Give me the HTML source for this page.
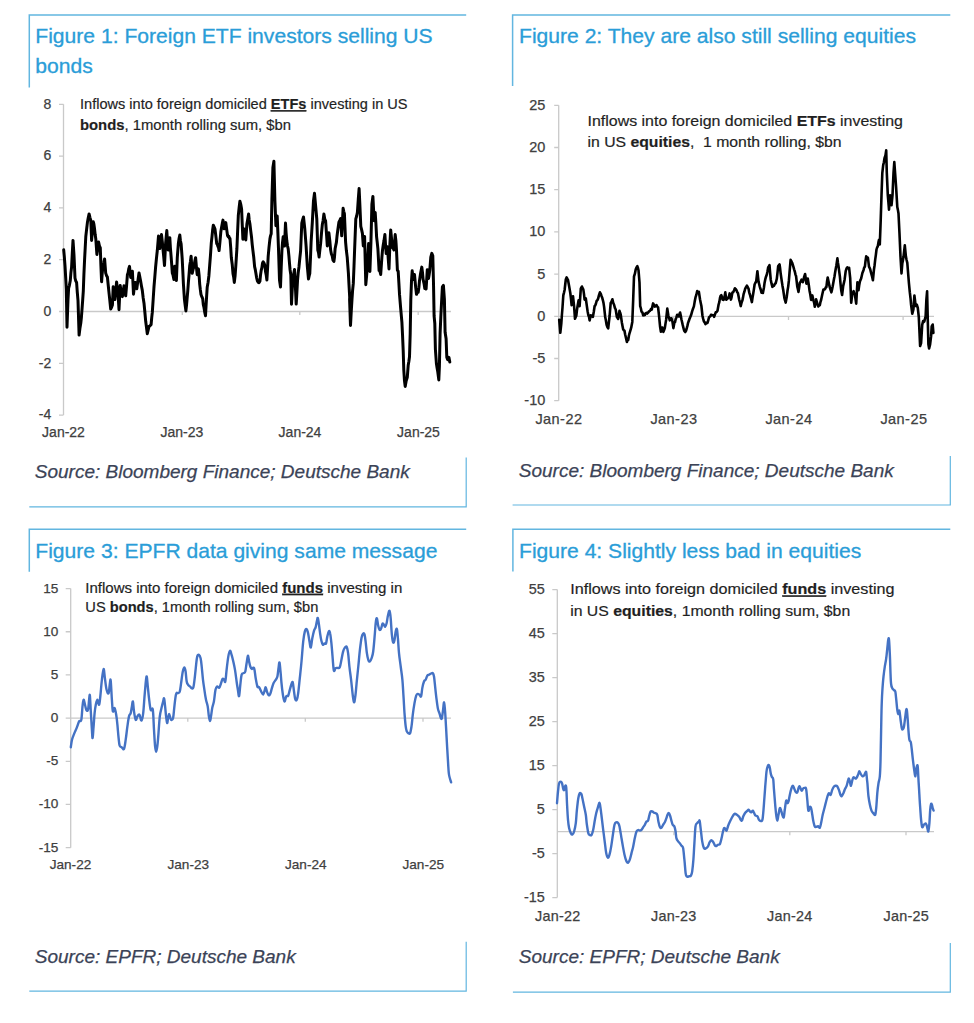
<!DOCTYPE html>
<html lang="en"><head><meta charset="utf-8"><title>Figures 1-4: Foreign flows into US assets</title>
<style>html,body{margin:0;padding:0;background:#fff}svg{display:block}text{font-family:"Liberation Sans",Arial,sans-serif}.t{font-size:20px;fill:#2a9dd8;stroke:#2a9dd8;stroke-width:.3}.s{font-size:19px;font-style:italic;fill:#3b4357;stroke:#3b4357;stroke-width:.25}.b{stroke:#62b6e0;stroke-width:1.5;fill:none}.ax{stroke:#c9c9c9;stroke-width:1.3;fill:none}.l{fill:#404040;stroke:#404040;stroke-width:.25}.a{fill:#1f1f1f;stroke:#1f1f1f;stroke-width:.2}.bk{stroke:#000;stroke-width:3;fill:none;stroke-linejoin:round;stroke-linecap:round}.bl{stroke:#4472c4;stroke-width:2.4;fill:none;stroke-linejoin:round;stroke-linecap:round}</style></head><body>
<svg width="974" height="1023" viewBox="0 0 974 1023">
<rect width="974" height="1023" fill="#fff"/>
<path class="b" d="M29.3 87.5 V15 H466.2"/>
<path class="b" style="stroke-width:1.2" d="M29.3 506.8 H466.2 V457.5"/>
<text class="t" transform="translate(35.3 43.1) scale(1.055 1)">Figure 1: Foreign ETF investors selling US</text>
<text class="t" transform="translate(35.3 73.1) scale(1.055 1)">bonds</text>
<text class="s" x="34.8" y="477.5">Source: Bloomberg Finance; Deutsche Bank</text>
<path class="ax" d="M63.5 104.3 V415.1 M59 104.3 H63.5 M59 156.1 H63.5 M59 207.9 H63.5 M59 259.7 H63.5 M59 311.5 H63.5 M59 363.3 H63.5 M59 415.1 H63.5 M63.5 311.5 H451 M182.3 311.5 V315.1 M299.8 311.5 V315.1 M418.2 311.5 V315.1"/>
<text class="l" font-size="14" text-anchor="end" x="51.2" y="108.6">8</text>
<text class="l" font-size="14" text-anchor="end" x="51.2" y="160.4">6</text>
<text class="l" font-size="14" text-anchor="end" x="51.2" y="212.2">4</text>
<text class="l" font-size="14" text-anchor="end" x="51.2" y="264">2</text>
<text class="l" font-size="14" text-anchor="end" x="51.2" y="315.8">0</text>
<text class="l" font-size="14" text-anchor="end" x="51.2" y="367.6">-2</text>
<text class="l" font-size="14" text-anchor="end" x="51.2" y="419.4">-4</text>
<text class="l" font-size="14" text-anchor="middle" letter-spacing="0" x="63.5" y="436.7">Jan-22</text>
<text class="l" font-size="14" text-anchor="middle" letter-spacing="0" x="181.8" y="436.7">Jan-23</text>
<text class="l" font-size="14" text-anchor="middle" letter-spacing="0" x="300" y="436.7">Jan-24</text>
<text class="l" font-size="14" text-anchor="middle" letter-spacing="0" x="418.5" y="436.7">Jan-25</text>
<text class="a" font-size="15" x="80" y="109.1" textLength="327.5" lengthAdjust="spacingAndGlyphs">Inflows into foreign domiciled <tspan font-weight="bold" text-decoration="underline" style="text-decoration-thickness:1px">ETFs</tspan> investing in US</text>
<text class="a" font-size="15" x="80" y="129.5" textLength="211" lengthAdjust="spacingAndGlyphs"><tspan font-weight="bold">bonds</tspan>, 1month rolling sum, $bn</text>
<path class="bk" d="M63.7 249.8 L64.3 256.5 L65 265.6 L65.7 277.8 L66.3 289.2 L67 327.3 L68 299.6 L68.6 288.3 L69.4 285.3 L70.3 280.5 L70.9 272.9 L71.6 267.1 L72.3 253 L73 240.4 L74 255.3 L75 278 L75.8 281.1 L76.6 282.5 L77.3 292.4 L78 300.6 L79.1 335.1 L79.9 328.5 L80.8 323.1 L81.4 317.3 L82 309.4 L82.7 299.9 L83.3 291.2 L83.9 274.6 L84.6 259.2 L85.2 248 L85.8 236.5 L86.6 229.3 L87.4 222.6 L88.2 218 L89.1 213.9 L89.9 217.3 L90.8 220.4 L91.6 240.5 L92.4 230.8 L93.3 221.8 L93.9 224.2 L94.6 229.3 L95.2 234.8 L95.8 239 L96.9 254.4 L97.8 248.6 L98.6 242 L99.4 245.8 L100.3 247.9 L100.9 265.5 L101.6 281.8 L102.2 273.5 L102.9 266.6 L103.8 263.1 L104.6 258.9 L105.7 273.1 L106.6 275.8 L107.4 277.1 L108.2 285 L109.1 293.7 L109.9 301.2 L110.7 309 L111.6 307.3 L112.4 305.1 L113.2 286.8 L114.1 292.8 L114.9 299.6 L115.8 290.6 L116.6 282 L117.4 288.9 L118.2 296.2 L119 309.7 L119.6 297 L120.2 285.4 L120.9 290.2 L121.7 294.1 L122.4 296.6 L123.2 291.2 L124 285.7 L124.8 290.6 L125.7 295.8 L126.6 285.3 L127.4 274.8 L128.1 272.7 L128.8 268.6 L129.5 266.4 L130.7 277.4 L131.6 274.1 L132.4 271.3 L133.5 294.2 L134.2 288.2 L134.8 282.4 L135.5 282.5 L136.1 286.4 L136.8 288.7 L137.5 283.6 L138.3 278 L139 272.9 L139.8 276.8 L140.7 281.5 L141.5 286.2 L142.3 290.4 L143.2 298 L144 303.2 L144.8 311.5 L145.7 321.3 L146.5 327.6 L147.3 333.7 L148.2 329.8 L149 326.4 L149.7 326 L150.4 325.4 L151.1 324.5 L151.7 317.8 L152.3 312.4 L153.2 299 L154 286.6 L154.8 277.2 L155.6 267.1 L156.4 258.8 L157.3 250.5 L158.5 236 L159.2 243.1 L159.8 248.5 L160.7 241 L161.5 234.6 L162.3 241.7 L163.1 250.4 L163.8 257.5 L164.5 265.5 L165.6 243.4 L166.2 237 L166.8 230.6 L167.4 239.9 L168.1 249.9 L168.9 243.3 L169.8 237.7 L170.4 247.8 L171.1 256.3 L171.7 264.4 L172.3 273 L173.1 275.4 L173.9 279.5 L174.8 266.2 L175.6 273.2 L176.4 280.5 L177.3 257.3 L178.4 243.1 L179.1 238.3 L179.8 235 L180.4 240.5 L181.1 243.7 L182.2 258.7 L182.8 270.7 L183.4 283.6 L184.4 299 L185.2 305.6 L185.9 310.9 L186.6 304.3 L187.2 297.4 L187.8 290.7 L188.4 282.1 L189.1 273.9 L189.7 265.8 L190.4 261.7 L191.1 256.2 L192.2 273.3 L193.1 269.4 L193.9 266.7 L194.8 261.3 L195.6 257.7 L196.4 267 L197.2 274.7 L197.8 270.6 L198.4 268.9 L199.1 275.2 L199.7 284.1 L200.3 289.4 L201 294.5 L201.8 296.7 L202.7 298.6 L203.3 304.7 L203.9 307 L204.7 312.1 L205.5 315.7 L206.4 299.9 L207.2 287.3 L208.1 282.2 L208.9 275.7 L209.7 265.2 L210.5 254.8 L211.3 242.8 L212 236.7 L212.6 230.3 L213.3 225.2 L214.2 227.2 L215 229.1 L215.8 235.6 L216.7 243.5 L217.3 244.3 L217.9 246.4 L218.5 247.7 L219.1 250.6 L219.9 242.4 L220.8 232.1 L221.5 227.8 L222.3 223.4 L223 220.1 L224.1 228.8 L224.9 225.3 L225.8 222.6 L226.7 229.4 L227.5 235.5 L228.1 236.6 L228.8 236.2 L229.4 238.2 L230 238.6 L230.7 247.3 L231.3 257.5 L232.2 264.2 L233 273.6 L233.7 277.2 L234.3 282.4 L235.1 275.7 L235.8 265.8 L236.9 248.7 L237.6 231.7 L238.3 215.7 L239.1 208 L239.9 201.2 L240.8 204.4 L241.6 209 L242.2 223.4 L242.9 239.2 L244.1 229.1 L244.9 233.2 L245.8 239.9 L246.9 223.9 L247.8 218.8 L248.6 214 L249.2 219.9 L249.9 223.8 L250.8 231.4 L251.6 237.8 L252.2 244.3 L252.9 250.4 L253.8 257.8 L254.6 266.6 L255.3 269.7 L255.9 273.3 L256.6 277.6 L257.4 281 L258.2 282.3 L259 282.7 L259.9 281.3 L260.5 275.1 L261.2 270.4 L261.9 267.7 L262.5 263.1 L263.2 261.8 L264 263 L264.9 265.6 L265.6 272 L266.2 274.9 L266.9 280 L267.5 269.6 L268.2 256.2 L269 247.3 L269.9 239.1 L270.5 235.9 L271.2 233.7 L271.9 199 L272.9 167.5 L273.9 161.3 L274.9 200.9 L275.9 225.7 L276.5 220.2 L277.2 216 L277.9 233.1 L278.5 248.9 L279.5 280 L280.5 287 L281.2 267.8 L281.9 250.9 L282.5 242.7 L283.2 236.7 L283.9 241.4 L284.5 246.1 L285.5 223 L286.1 232.8 L286.8 240.8 L287.5 245.8 L288.2 248.9 L288.9 255.8 L289.5 263.4 L290.1 270 L290.8 274.8 L291.5 304.3 L292.1 292.2 L292.8 279.2 L293.6 274.8 L294.5 269.4 L295.4 286.8 L296.2 304.1 L296.9 291.9 L297.5 280.8 L298.2 272.9 L299 266.7 L299.8 258.4 L300.6 250.8 L301.8 223 L302.6 219.9 L303.5 217 L304.1 222.4 L304.8 229 L305.5 238.2 L306.1 246.1 L307.3 266 L308.5 279 L309.1 276.2 L309.8 273.3 L310.5 257.5 L311.1 242 L312.3 222.6 L313.5 200.7 L314.5 193.3 L315.6 205.7 L316.8 219 L317.8 250.1 L318.5 252.6 L319.1 257 L319.9 249.7 L320.6 243.9 L321.5 233.2 L322.3 224.8 L323.1 220.5 L323.9 214 L324.8 219.2 L325.6 220.8 L326.5 233.8 L327.3 245.9 L328.1 239.7 L328.9 232.8 L329.8 240.6 L330.6 249.8 L331.4 254 L332.2 255.9 L333 260.2 L333.9 261.5 L334.5 257 L335.1 248.8 L335.8 245.2 L336.4 242.4 L337 236.3 L337.7 230.7 L338.9 222.2 L339.8 220.4 L340.6 218.6 L341.7 235.8 L342.4 222.6 L343.1 208.2 L343.8 211.6 L344.4 213.6 L345 227.6 L345.6 242.1 L346.4 250.8 L347.2 257.1 L348.4 273.2 L349 284.8 L349.7 297.2 L349.6 299.6 L350.5 325.4 L351.2 312.3 L352 299.2 L352.6 290.4 L353.3 283.4 L354 266.3 L354.6 250 L355.8 218.9 L356.6 216.2 L357.4 212.4 L358.3 199.1 L359.1 188.6 L359.9 205.6 L360.8 226.3 L361.6 229.6 L362.4 233.4 L363.3 245.9 L364 240.4 L364.6 236.6 L365.8 284.7 L366.6 275.9 L367.4 266.3 L368 255.2 L368.6 243.6 L369.2 256.7 L369.9 271.4 L370.9 243.1 L371.9 204.3 L372.9 196.4 L373.5 208.4 L374.1 220.8 L375.2 212.4 L375.9 223.5 L376.6 236.8 L377.2 242.2 L377.9 248.9 L378.5 259.8 L379.1 270.6 L379.9 271.1 L380.7 274.5 L381.9 257.2 L382.5 250.2 L383.2 245.2 L384 240.6 L384.9 234.5 L385.5 244.4 L386.2 253.6 L387.4 246.7 L388.2 258.1 L389 269 L389.9 244.1 L390.7 230 L391.5 238.2 L392.4 247.6 L393.2 248.3 L394 250 L395.2 234.6 L395.9 240.9 L396.5 250.2 L397.4 270.3 L398.2 271.3 L398.9 283.3 L399.5 294.2 L400.7 308.7 L401.9 322.1 L402.5 334.2 L403.2 350.5 L403.8 370 L404.5 380.9 L405.2 386.4 L406.2 380.7 L407.3 377.2 L408.2 365.3 L408.9 361.3 L409.5 356.8 L410.2 333.5 L410.8 299.8 L411.5 280.8 L412.2 270.8 L413.2 279.4 L413.9 277.9 L414.5 274.6 L415.7 287.3 L416.5 294.3 L417.4 292.2 L418.2 292.3 L418.9 287.4 L419.5 280.6 L420.6 273.3 L421.8 267.1 L422.5 272.7 L423.1 279.3 L424 283.3 L424.8 288.5 L425.5 287.8 L426.1 289 L427.3 269.7 L428.5 278.6 L429.1 275 L429.8 270 L430.8 257.1 L431.8 253.4 L432.8 255.9 L433.5 283.3 L434.1 316 L434.8 323.3 L435.4 349.3 L436.4 363.5 L437.1 367.9 L437.8 372.1 L438.8 379.9 L439.4 366.5 L440.1 333.1 L440.8 317.3 L441.4 305.4 L442.4 286.8 L443.4 285.4 L444.4 299.4 L445.1 332.2 L446.1 338.8 L446.8 357.3 L447.5 359.4 L448.1 359.8 L448.9 357.4 L449.8 362"/>
<path class="b" d="M512.6 86 V15 H950.3"/>
<path class="b" style="stroke-width:1.2" d="M512.6 505 H950.3 V456"/>
<text class="t" transform="translate(519 43.1) scale(1.055 1)">Figure 2: They are also still selling equities</text>
<text class="s" x="518.8" y="476.8">Source: Bloomberg Finance; Deutsche Bank</text>
<path class="ax" d="M558.7 105.3 V400.7 M554.2 105.3 H558.7 M554.2 147.5 H558.7 M554.2 189.7 H558.7 M554.2 231.9 H558.7 M554.2 274.1 H558.7 M554.2 316.3 H558.7 M554.2 358.5 H558.7 M554.2 400.7 H558.7 M558.7 316.3 H934 M673.6 316.3 V319.9 M788.5 316.3 V319.9 M903.1 316.3 V319.9"/>
<text class="l" font-size="14.5" text-anchor="end" x="545.3" y="109.7">25</text>
<text class="l" font-size="14.5" text-anchor="end" x="545.3" y="151.9">20</text>
<text class="l" font-size="14.5" text-anchor="end" x="545.3" y="194.1">15</text>
<text class="l" font-size="14.5" text-anchor="end" x="545.3" y="236.3">10</text>
<text class="l" font-size="14.5" text-anchor="end" x="545.3" y="278.5">5</text>
<text class="l" font-size="14.5" text-anchor="end" x="545.3" y="320.7">0</text>
<text class="l" font-size="14.5" text-anchor="end" x="545.3" y="362.9">-5</text>
<text class="l" font-size="14.5" text-anchor="end" x="545.3" y="405.1">-10</text>
<text class="l" font-size="14.5" text-anchor="middle" letter-spacing="0.45" x="558.925" y="424.4">Jan-22</text>
<text class="l" font-size="14.5" text-anchor="middle" letter-spacing="0.45" x="673.925" y="424.4">Jan-23</text>
<text class="l" font-size="14.5" text-anchor="middle" letter-spacing="0.45" x="788.925" y="424.4">Jan-24</text>
<text class="l" font-size="14.5" text-anchor="middle" letter-spacing="0.45" x="903.925" y="424.4">Jan-25</text>
<text class="a" font-size="15" x="587.5" y="125.8" textLength="315.5" lengthAdjust="spacingAndGlyphs">Inflows into foreign domiciled <tspan font-weight="bold">ETFs</tspan> investing</text>
<text class="a" font-size="15" x="587.5" y="146.8" textLength="254" lengthAdjust="spacingAndGlyphs">in US <tspan font-weight="bold">equities</tspan>,&#160; 1 month rolling, $bn</text>
<path class="bk" style="stroke-width:2.6" d="M559.2 319.8 L560.3 332.8 L561.3 323.7 L561.9 315 L562.5 307.5 L563.3 295.3 L564 292.6 L564.6 290 L565.8 279.5 L566.6 277.4 L567.3 278.7 L568 279.9 L569.1 286 L570.3 293 L571 298.8 L571.6 305.1 L572.3 300.9 L573 296.2 L574.1 306.5 L575 318.8 L575.6 317.3 L576.3 315.8 L576.9 310.7 L577.5 306.4 L578.6 300.3 L579.6 306.2 L580.8 288.7 L581.9 286.5 L582.6 288.2 L583.3 289.4 L584 294.1 L584.6 299.6 L585.8 298.5 L586.9 306.4 L587.6 311.3 L588.3 315 L589 316.9 L589.6 320.4 L590.8 315.2 L591.5 315.7 L592.2 316.4 L592.9 316.8 L593.8 311.8 L594.6 306.2 L595.3 305.4 L595.9 303.8 L596.6 301 L597.4 300.2 L598.2 298.4 L599 295.1 L599.9 292.3 L600.8 293.9 L601.6 296.2 L602.2 297.7 L602.9 300.3 L603.5 302.9 L604.1 306.9 L605.2 317 L605.9 320.5 L606.6 324.8 L607.4 327 L608.2 328.4 L608.9 322.2 L609.6 316 L610.7 302.9 L611.5 301.7 L612.4 299.3 L613.2 302.9 L614 304.5 L614.9 307.9 L615.7 309.5 L616.9 317 L617.5 317.9 L618.2 318.9 L618.9 314.8 L619.5 310.8 L620.1 312.8 L620.7 314.5 L621.9 322.7 L622.5 326 L623.2 329.5 L623.9 330.3 L624.5 330.8 L625.1 334.3 L625.7 336.7 L626.9 342 L627.5 340.1 L628.2 340 L628.9 335.8 L629.5 333.3 L630.4 330.3 L631.2 327.7 L632.3 321.9 L633.2 299.2 L634 276.5 L634.9 273.7 L635.7 269.5 L636.5 267.4 L637.3 266.2 L637.9 267.7 L638.5 270.2 L639.5 282.5 L640.2 306.2 L640.9 308.4 L641.5 311.6 L642.4 312.5 L643.2 315.4 L644 314.1 L644.8 315.1 L645.6 313.3 L646.5 312.8 L647.3 313.5 L648.1 312.6 L649 311.4 L649.8 310.9 L650.5 309.9 L651.1 308.8 L651.8 309.6 L652.5 306 L653.1 303.4 L654 305 L654.8 306.6 L655.6 306.3 L656.5 305.1 L657.3 306.6 L658.1 307.4 L659.1 316.3 L660.1 326.8 L660.9 331.7 L661.6 329.9 L662.3 327.6 L663.4 331.9 L664.1 330 L664.8 328.1 L665.5 323.6 L666.1 320 L667.3 308.6 L668.4 315.8 L669.1 318 L669.8 320.3 L670.6 318.4 L671.4 318.2 L672.4 321.3 L673.4 328.1 L674.4 322.6 L675 322.1 L675.6 319.5 L676.4 317.4 L677.2 314.7 L678 314.9 L678.9 316.5 L679.5 314.2 L680.1 312.5 L680.8 315.8 L681.4 319.3 L682 321.7 L682.7 324.9 L683.9 329.7 L684.5 331.2 L685.2 332 L686 330.8 L686.7 328.5 L687.4 325.9 L688.1 322.8 L688.8 321.1 L689.4 319.1 L690.2 317.3 L691.1 315.1 L692.2 311.1 L693 308.8 L693.9 306.4 L694.7 301.6 L695.5 297.4 L696.4 294.7 L697.2 291 L698 292.2 L698.9 291.9 L700 299.2 L700.7 302.7 L701.4 306 L702.5 316 L703.2 318.9 L703.9 321.4 L704.7 322.4 L705.5 324.1 L706.2 322.9 L706.8 323.3 L707.5 322.8 L708.3 320.1 L709.1 317.2 L709.7 316.7 L710.4 316.2 L711 314.8 L711.6 314.7 L712.2 315.2 L712.9 315.2 L713.5 315.4 L714.1 316.8 L715 314.2 L715.8 312.3 L716.6 312 L717.5 310.8 L718.6 304.5 L719.3 302.1 L720 297.9 L720.6 295.8 L721.3 295.1 L721.9 296.7 L722.5 299.5 L723.3 299.9 L724.1 299.2 L725.3 292.4 L726.3 299.7 L727 299.1 L727.6 298.6 L728.3 297.7 L729 296.2 L729.6 293.4 L730.2 296.6 L730.9 299.6 L731.6 297.1 L732.4 292.5 L733.2 292.2 L734.1 290.2 L734.9 288.3 L735.8 289.2 L736.6 290.5 L737.2 292.2 L737.9 293 L738.5 295.9 L739.1 299.3 L739.9 302.1 L740.7 306.1 L741.5 302.9 L742.4 300.4 L743 297.6 L743.6 294.1 L744.4 291.7 L745.2 288.6 L746 287.3 L746.9 285.7 L747.8 287.2 L748.6 288.9 L749.2 292.3 L749.9 294.5 L750.6 297.1 L751.2 299.2 L751.9 302.1 L752.5 297.7 L753.2 293.7 L753.9 289.4 L754.6 284.5 L755.4 282.8 L756.2 281.5 L757.4 271.2 L758.5 281.4 L759.2 284.3 L759.9 287.1 L760.7 289.5 L761.5 292.7 L762.2 292.1 L762.9 292.9 L764 287.2 L764.6 282.7 L765.2 279.7 L766 276.7 L766.9 274.2 L767.5 271.2 L768.2 267.2 L768.9 266.3 L769.5 265.2 L770.1 272.5 L770.7 279.4 L771.5 283.4 L772.4 286.8 L773.2 286 L774 285.7 L774.9 283.9 L775.7 283.3 L776.8 278.8 L777.5 272.7 L778.2 265.9 L778.9 265.3 L779.5 264.3 L780.1 268.3 L780.7 273.8 L781.8 281.4 L782.5 285.9 L783.2 289.7 L783.9 294.6 L784.5 298.5 L785.1 300.7 L785.7 302.6 L786.8 296.4 L787.5 290.8 L788.2 286.6 L788.9 280.4 L789.5 272.8 L790.6 259.9 L791.5 261.5 L792.3 263.1 L792.9 265.1 L793.5 267.1 L794.1 269.3 L794.8 271.5 L795.5 274.6 L796.1 276.3 L797.3 286.8 L797.9 289.2 L798.5 291.9 L799.1 287.8 L799.8 282.8 L800.6 281.7 L801.5 279.7 L802.1 280.9 L802.8 282.2 L803.4 280 L804 277.5 L805.1 274 L805.8 278.9 L806.4 283.7 L807.1 280.9 L807.8 278.6 L808.9 285.8 L809.5 290.4 L810.1 293.4 L811.1 299.9 L812.3 295.4 L813.4 300.3 L814.1 302.5 L814.8 306.8 L815.5 303.5 L816.1 299.4 L817.3 303.4 L818.4 306.5 L819.1 305.2 L819.8 305.2 L820.5 301.8 L821.1 300 L822.2 294.7 L823.4 289.5 L824.2 289.5 L825.1 289 L825.8 287.3 L826.4 287.2 L827 281.8 L827.7 277.5 L828.9 283.2 L829.5 286.2 L830.1 288.4 L830.8 290.6 L831.4 292.3 L832 289.6 L832.7 286.3 L833.9 279.5 L834.5 276.5 L835.1 272.5 L835.8 268.5 L836.4 265.3 L837.4 258.4 L838 263 L838.6 266.8 L839.2 271.3 L839.9 276.6 L840.5 283.5 L841.2 290.2 L842.1 295 L843.2 285.9 L843.9 282.9 L844.6 279.7 L845.7 271.1 L846.5 268.6 L847.4 267.3 L848.2 268.3 L849.1 267.9 L850.2 278.1 L851.2 302.8 L852.4 292.9 L853 292.7 L853.6 291.1 L854.2 293.3 L854.9 294.7 L855.5 298.9 L856.2 303.6 L857.4 282.4 L858.5 290.2 L859.2 285.3 L859.9 281.6 L860.5 280.1 L861.2 278.2 L862.4 273 L863.5 270.2 L864.2 267.5 L864.9 266.6 L865.5 261.2 L866.2 256.4 L867 257.3 L867.9 257.7 L869 266.6 L869.6 267.8 L870.2 269.3 L870.9 272.1 L871.5 274.3 L872.2 276.9 L872.9 280.3 L874 269.2 L874.6 265.2 L875.2 259.6 L875.9 254.6 L876.5 249.5 L877.1 247.5 L877.8 246.3 L878.4 242.6 L879 239.7 L879.8 244.5 L880.7 220.4 L881.5 195.5 L882.3 173.2 L883.2 165.1 L883.9 162.2 L884.5 158.1 L885.5 155.2 L886.2 150.4 L886.8 172.9 L887.8 195.1 L888.4 202.2 L889 209.7 L890.1 195.3 L890.8 199.5 L891.5 205.3 L892.5 195.1 L893.5 173.2 L894.3 162.1 L895.1 173.1 L896.1 187.1 L897.3 207.1 L897.9 209.9 L898.5 213.5 L899.5 233.7 L900.5 256.7 L901.5 273.5 L902.3 263.6 L902.9 260.4 L903.5 256.8 L904.1 251.7 L904.8 245.3 L905.9 256.6 L906.6 260 L907.3 262.9 L908.1 273 L908.9 282.8 L909.8 292.2 L910.5 298 L911.1 304.9 L912.3 313.8 L913.4 309.5 L914.4 295.5 L915 300.2 L915.6 305.9 L916.8 304.7 L917.8 308 L918.8 317.1 L919.4 330.3 L920.1 346 L921.1 343 L922.2 324.9 L923.1 321.1 L923.8 322 L924.4 321.3 L925 318.7 L925.6 316.7 L926.4 299.4 L927.1 291.3 L927.7 317.1 L928.4 344.2 L929.1 348.5 L930.1 344.4 L931.1 336.2 L931.7 326.4 L932.7 324.5 L933.4 333"/>
<path class="b" d="M29.3 571.7 V529.3 H466.2"/>
<path class="b" style="stroke-width:1.2" d="M29.3 991.1 H466.2 V941.8"/>
<text class="t" transform="translate(35.3 558.1) scale(1.055 1)">Figure 3: EPFR data giving same message</text>
<text class="s" x="34.8" y="962.8">Source: EPFR; Deutsche Bank</text>
<path class="ax" d="M70.7 588.56 V847.64 M65.7 588.56 H70.7 M65.7 631.74 H70.7 M65.7 674.92 H70.7 M65.7 718.1 H70.7 M65.7 761.28 H70.7 M65.7 804.46 H70.7 M65.7 847.64 H70.7 M70.7 718.1 H451 M187.8 718.1 V721.7 M305.3 718.1 V721.7 M423 718.1 V721.7"/>
<text class="l" font-size="13.6" text-anchor="end" x="58.3" y="592.56">15</text>
<text class="l" font-size="13.6" text-anchor="end" x="58.3" y="635.74">10</text>
<text class="l" font-size="13.6" text-anchor="end" x="58.3" y="678.92">5</text>
<text class="l" font-size="13.6" text-anchor="end" x="58.3" y="722.1">0</text>
<text class="l" font-size="13.6" text-anchor="end" x="58.3" y="765.28">-5</text>
<text class="l" font-size="13.6" text-anchor="end" x="58.3" y="808.46">-10</text>
<text class="l" font-size="13.6" text-anchor="end" x="58.3" y="851.64">-15</text>
<text class="l" font-size="13.6" text-anchor="middle" letter-spacing="0" x="70.5" y="868.7">Jan-22</text>
<text class="l" font-size="13.6" text-anchor="middle" letter-spacing="0" x="188.3" y="868.7">Jan-23</text>
<text class="l" font-size="13.6" text-anchor="middle" letter-spacing="0" x="305.8" y="868.7">Jan-24</text>
<text class="l" font-size="13.6" text-anchor="middle" letter-spacing="0" x="423.3" y="868.7">Jan-25</text>
<text class="a" font-size="14.8" x="85.3" y="592.7" textLength="317" lengthAdjust="spacingAndGlyphs">Inflows into foreign domiciled <tspan font-weight="bold" text-decoration="underline" style="text-decoration-thickness:1px">funds</tspan> investing in</text>
<text class="a" font-size="14.8" x="85.3" y="612.4" textLength="233" lengthAdjust="spacingAndGlyphs">US <tspan font-weight="bold">bonds</tspan>, 1month rolling sum, $bn</text>
<path class="bl" d="M70.8 747.2 C71 745.9 71.4 742.1 72 739.7 C72.6 737.3 73.3 736 74.1 733.9 C74.9 731.8 75.7 730.4 76.6 728.1 C77.5 725.9 78.3 722.9 79.1 721.4 C79.9 719.9 80.7 722.5 81.3 719.8 C81.9 717.1 82.1 710 82.5 706.4 C82.9 702.8 83.1 700.1 83.6 699.8 C84 699.5 84.5 703 85 704.8 C85.5 706.6 85.8 708.9 86.3 709.8 C86.8 710.7 87.5 711.6 88 709.8 C88.5 708 88.8 702.4 89.1 699.8 C89.4 697.2 89.6 693.2 89.9 695.6 C90.2 698 90.5 707 90.9 713.1 C91.3 719.2 91.6 725.2 91.9 729.7 C92.2 734.2 92.3 738.6 92.6 738 C92.9 737.4 93.2 730.9 93.6 726.4 C94 721.9 94.2 717 94.6 713.1 C95 709.2 95.3 707.2 95.8 704.8 C96.3 702.4 96.8 699.8 97.4 699.8 C98 699.8 98.6 705.4 99.1 704.8 C99.6 704.2 99.8 701 100.3 696.5 C100.8 692 101.3 684.8 101.9 679.8 C102.5 674.8 103.1 669.3 103.6 669 C104.1 668.7 104.4 674.5 104.9 678.2 C105.4 681.9 105.9 687.1 106.6 689.8 C107.3 692.5 108 694.3 108.6 693.1 C109.2 691.9 109.5 685.4 109.9 683.2 C110.3 681 110.3 677.7 110.7 680.7 C111.1 683.7 111.5 694.3 111.9 699.8 C112.3 705.3 112.4 709.9 112.9 711.4 C113.4 712.9 114 707.5 114.6 708.1 C115.2 708.7 115.7 711.8 116.2 714.8 C116.7 717.8 117 720.5 117.4 724.7 C117.8 728.9 118.2 734.3 118.6 738 C119 741.7 119.1 743.8 119.6 745.5 C120.1 747.2 120.8 746.6 121.6 747.2 C122.4 747.8 123.3 750.2 124 748.9 C124.7 747.5 125.1 743.8 125.7 739.7 C126.3 735.7 126.8 730.6 127.4 726.4 C128 722.2 128.4 718.8 129 716.4 C129.6 714 130.2 714.9 130.7 713.1 C131.2 711.3 131.5 708.5 131.9 706.4 C132.3 704.3 132.5 700.6 132.9 701.5 C133.3 702.4 133.5 708.1 134 711.4 C134.5 714.7 135.1 718.9 135.7 719.8 C136.3 720.7 136.7 717.3 137.4 716.4 C138.1 715.5 138.8 714 139.5 714.8 C140.2 715.6 140.8 720.9 141.5 720.6 C142.2 720.3 142.6 718.1 143.2 713.1 C143.8 708.1 144.2 699.7 144.8 693.1 C145.4 686.5 146 677.7 146.5 676.5 C147 675.3 147.4 682.6 147.8 686.5 C148.2 690.4 148.5 693.9 149 698.1 C149.5 702.3 150 707.7 150.7 709.8 C151.4 711.9 152.2 706.2 152.8 709.8 C153.4 713.4 153.6 723.1 154 729.7 C154.4 736.3 154.7 742.4 155.1 746.4 C155.5 750.4 155.7 751.7 156.1 751.7 C156.5 751.7 156.9 749.7 157.3 746.4 C157.7 743.1 158.1 738.5 158.5 733.1 C158.9 727.7 159.3 720.9 159.8 716.4 C160.3 711.9 160.9 710.8 161.5 708.1 C162.1 705.4 162.6 703.2 163.1 701.5 C163.6 699.8 163.7 697.6 164.1 698.5 C164.5 699.4 164.7 703.2 165.1 706.4 C165.5 709.6 165.7 713.4 166.1 716.4 C166.5 719.4 166.7 722.8 167.1 723.1 C167.5 723.4 167.7 719.8 168.1 718.1 C168.5 716.4 168.7 713.9 169.1 713.9 C169.5 713.9 170 717 170.4 718.1 C170.8 719.2 170.9 720.1 171.4 720.1 C171.9 720.1 172.6 720.6 173.1 718.1 C173.6 715.6 173.9 710.7 174.4 706.4 C174.9 702.1 175.4 696.4 176.1 694 C176.8 691.6 177.4 693.6 178.1 693.1 C178.8 692.6 179.3 693.3 179.8 691.5 C180.3 689.7 180.6 686.8 181.1 683.2 C181.6 679.6 182.2 674.3 182.8 671.5 C183.4 668.7 183.9 667.4 184.4 667.4 C184.9 667.4 185.2 669 185.6 671.5 C186 674 186.2 679.1 186.7 681.5 C187.1 683.9 187.5 683.9 188.1 684.8 C188.7 685.7 189.5 685.9 190.1 686.5 C190.7 687.1 191.1 688.1 191.7 688.2 C192.3 688.3 192.9 689.1 193.4 687.3 C193.9 685.5 194.2 682.2 194.7 678.2 C195.2 674.2 195.7 668.8 196.1 664.9 C196.5 661 196.7 658.4 197.2 656.6 C197.7 654.8 198.3 654.6 198.9 654.9 C199.5 655.2 200.1 656.1 200.6 658.2 C201.1 660.3 201.3 662.6 201.7 666.5 C202.1 670.4 202.5 675.6 203 679.8 C203.5 684 203.9 686.2 204.4 689.8 C204.9 693.4 205.4 696.8 206 699.8 C206.6 702.8 207.2 703.4 207.7 706.4 C208.2 709.4 208.5 713.8 208.9 716.4 C209.3 719 209.6 721.1 210 721.1 C210.4 721.1 210.6 718.7 211 716.4 C211.4 714.1 211.7 710.8 212.2 708.1 C212.7 705.4 213.3 704.8 213.9 701.5 C214.5 698.2 214.9 692.5 215.5 689.8 C216.1 687.1 216.3 686.9 217 686.5 C217.7 686.1 218.5 688.2 219.2 687.8 C219.9 687.3 220.2 685.6 220.8 684 C221.4 682.4 221.9 679.8 222.5 679 C223.1 678.2 223.6 679.3 224.1 679.8 C224.6 680.2 224.9 683.3 225.3 681.5 C225.8 679.7 226.1 674.4 226.6 669.9 C227.1 665.4 227.7 660.1 228.3 656.6 C228.9 653.1 229.4 651 230 650.7 C230.6 650.4 231 653 231.6 654.9 C232.2 656.8 232.7 658.8 233.3 661.5 C233.9 664.2 234.4 666.3 235 669.9 C235.6 673.5 236.1 677.8 236.6 681.5 C237.1 685.2 237.6 688 238 690.6 C238.4 693.2 238.7 697.1 239.1 696.1 C239.5 695.1 239.9 688.6 240.3 684.8 C240.8 681 241 676.9 241.6 674.8 C242.2 672.7 242.9 673.8 243.6 673.2 C244.3 672.6 244.8 673.3 245.3 671.5 C245.8 669.7 246.1 666 246.6 663.2 C247.1 660.4 247.5 656 247.9 655.7 C248.3 655.4 248.7 659.6 249.1 661.5 C249.5 663.4 249.8 665.1 250.3 666.5 C250.8 667.9 251.2 668.7 251.9 669 C252.6 669.3 253.4 666.5 254.1 668.2 C254.8 669.9 255.1 674.9 255.7 678.2 C256.3 681.5 256.8 684.9 257.4 686.5 C258 688.1 258.4 686.4 259.1 687.3 C259.8 688.2 260.5 690.2 261.2 691.5 C261.9 692.8 262.6 694.7 263.2 694.5 C263.8 694.3 264.2 691.9 264.6 690.6 C265.1 689.3 265.3 687.1 265.7 687.3 C266.1 687.5 266.4 690.1 266.9 691.5 C267.4 692.9 268 694.6 268.6 695.1 C269.2 695.6 269.6 695.2 270.2 694 C270.8 692.8 271.3 690.1 271.9 688.2 C272.5 686.3 272.8 684.7 273.5 683.2 C274.2 681.7 275 681 275.7 679.8 C276.4 678.6 276.9 678.6 277.4 676.5 C277.9 674.4 278.1 670.7 278.5 668.2 C278.9 665.7 279.1 661.8 279.5 662.4 C279.9 663 280.1 667.8 280.5 671.5 C280.9 675.2 281.1 679 281.5 683.2 C281.9 687.4 282.4 691.5 282.9 694.8 C283.4 698.1 283.9 701.2 284.5 701.5 C285.1 701.8 285.5 697.6 286.2 696.5 C286.9 695.4 287.6 696.8 288.2 695.6 C288.8 694.4 289.2 691.9 289.8 689.8 C290.4 687.7 291 685.4 291.5 684 C292 682.6 292.3 681.3 292.7 682.3 C293.1 683.3 293.4 686.8 293.8 689.8 C294.2 692.8 294.7 697.2 295.2 699 C295.7 700.8 296.3 700.9 296.8 699.8 C297.3 698.7 297.7 697 298.2 693.1 C298.7 689.2 299.2 683.9 299.8 678.2 C300.4 672.5 300.9 668.1 301.5 661.5 C302.1 654.9 302.6 647 303.2 641.6 C303.8 636.2 304.2 633.9 304.8 631.6 C305.4 629.4 305.9 628.8 306.5 629.1 C307.1 629.4 307.6 631 308.1 633.3 C308.6 635.5 309 639.1 309.5 641.6 C310 644.1 310.3 648 310.8 647.4 C311.3 646.8 311.7 641.3 312.3 638.3 C312.9 635.3 313.4 632.8 314 630.8 C314.6 628.8 315.1 629.1 315.6 627.4 C316.1 625.7 316.4 623.3 316.8 621.6 C317.2 619.9 317.4 617.4 317.8 618 C318.2 618.6 318.6 622.1 319 624.9 C319.4 627.7 319.7 630.5 320.1 633.3 C320.5 636.1 320.9 638.7 321.4 640.7 C321.9 642.7 322.3 644.1 322.8 644.6 C323.3 645.1 323.8 643.9 324.4 643.6 C325 643.3 325.6 644.5 326.1 643.2 C326.6 641.9 326.8 638.7 327.3 636.6 C327.8 634.5 328.4 631.9 328.9 631.3 C329.4 630.7 329.7 631.2 330.1 633.3 C330.6 635.4 330.9 638.4 331.4 643.2 C331.9 648 332.4 654.9 332.8 659.9 C333.2 664.9 333.4 669.2 333.9 670.7 C334.4 672.2 335 668.7 335.6 668.2 C336.2 667.7 336.5 668 337.2 667.9 C337.9 667.8 338.9 668.8 339.7 667.4 C340.5 666 340.8 662.7 341.4 659.9 C342 657.1 342.5 653.8 343.1 651.6 C343.7 649.4 344.1 648.7 344.7 647.9 C345.3 647.1 346.1 645.9 346.7 646.9 C347.3 647.9 347.6 649.7 348.1 653.2 C348.6 656.7 348.9 661.7 349.4 666.5 C349.9 671.3 350.5 674.7 351.1 679.8 C351.7 684.9 352.2 690.8 352.7 694.8 C353.2 698.8 353.5 702 354 702.3 C354.5 702.6 354.8 699.9 355.3 696.4 C355.8 692.9 356.1 688.5 356.6 683.1 C357.1 677.7 357.7 672.5 358.3 666.5 C358.9 660.5 359.3 655.1 359.9 649.9 C360.5 644.7 361 640.3 361.6 637.4 C362.2 634.5 362.8 634.1 363.3 633.6 C363.8 633.1 364.2 633.2 364.6 634.9 C365.1 636.6 365.4 639.9 365.8 643.2 C366.2 646.5 366.4 650.2 366.9 653.2 C367.3 656.2 367.8 658.3 368.3 659.8 C368.8 661.3 369.3 661.8 369.9 661.5 C370.5 661.2 371 660 371.6 658.2 C372.2 656.4 372.7 655.4 373.2 651.5 C373.7 647.6 374.2 641.7 374.6 636.6 C375.1 631.5 375.3 626.5 375.7 623.2 C376.1 619.9 376.4 617.8 376.9 618.3 C377.3 618.8 377.7 623.6 378.2 625.7 C378.7 627.8 379.1 629.4 379.6 629.9 C380.1 630.4 380.7 629.3 381.2 628.2 C381.7 627.1 382.1 624.2 382.6 623.6 C383.1 623 383.4 624.4 383.9 624.9 C384.4 625.4 384.7 626.9 385.2 626.6 C385.7 626.3 386.1 625.1 386.6 623.2 C387.1 621.3 387.4 618 387.9 615.8 C388.4 613.6 389 610.3 389.5 610.8 C390 611.2 390.3 614 390.7 618.3 C391.1 622.6 391.4 630.6 391.9 634.9 C392.3 639.2 392.7 641.5 393.2 642.4 C393.7 643.3 394.1 641.8 394.5 639.9 C394.9 638 395.3 633.5 395.7 631.6 C396.1 629.7 396.5 627.9 396.9 629.1 C397.3 630.3 397.5 633.9 397.9 638.2 C398.3 642.5 398.5 648.1 399 653.2 C399.5 658.3 400.1 661.7 400.7 666.5 C401.3 671.3 401.9 674.4 402.4 679.8 C402.9 685.2 403.1 690.4 403.5 696.4 C403.9 702.4 404.1 707.7 404.5 713.1 C404.9 718.5 405.3 723.1 405.7 726.4 C406.1 729.7 406.3 730.1 406.8 731.4 C407.3 732.7 407.9 733.1 408.5 733.4 C409.1 733.7 409.7 734.3 410.2 733 C410.7 731.7 411 729.7 411.5 726.4 C412 723.1 412.3 718.9 412.8 714.7 C413.3 710.5 413.9 706.5 414.5 703.1 C415.1 699.7 415.6 697.3 416.2 695.6 C416.8 693.9 417.2 694 417.8 693.9 C418.4 693.8 418.9 694.3 419.5 694.8 C420.1 695.2 420.6 697.6 421.1 696.4 C421.6 695.2 421.8 690.8 422.3 688.1 C422.8 685.4 423.4 683 424 681.5 C424.6 680 425 680.9 425.6 679.8 C426.2 678.7 426.7 676.5 427.3 675.6 C427.9 674.7 428.3 675.2 429 674.8 C429.7 674.4 430.4 673.8 431.1 673.5 C431.8 673.2 432.3 672.6 432.8 673.1 C433.3 673.6 433.6 674.1 434 676.5 C434.4 678.9 434.7 682.5 435.1 686.4 C435.5 690.3 435.9 694.2 436.4 698.1 C436.9 702 437.3 705.4 437.8 708.1 C438.3 710.8 438.9 711.5 439.4 713.1 C439.9 714.7 440.2 716.2 440.6 717.2 C441 718.2 441.4 719.8 441.8 718.4 C442.2 717 442.7 712.6 443.1 709.7 C443.5 706.8 443.7 702.1 444.1 702.4 C444.5 702.7 444.7 707 445.1 711.6 C445.5 716.2 445.7 721.9 446.1 728.2 C446.5 734.5 446.7 740.2 447.1 746.5 C447.5 752.8 447.8 758.3 448.1 763.1 C448.4 767.9 448.5 770.4 448.8 773.1 C449.1 775.8 449.4 776.4 449.8 778.1 C450.2 779.8 450.9 781.5 451.1 782.3"/>
<path class="b" d="M512.9 571.5 V529.3 H950.3"/>
<path class="b" style="stroke-width:1.2" d="M512.9 992.1 H950.3 V943"/>
<text class="t" transform="translate(519 558.1) scale(1.055 1)">Figure 4: Slightly less bad in equities</text>
<text class="s" x="518.8" y="962.8">Source: EPFR; Deutsche Bank</text>
<path class="ax" d="M557.3 589.6 V897.6 M552.3 589.6 H557.3 M552.3 633.6 H557.3 M552.3 677.6 H557.3 M552.3 721.6 H557.3 M552.3 765.6 H557.3 M552.3 809.6 H557.3 M552.3 853.6 H557.3 M552.3 897.6 H557.3 M557.3 831.6 H934 M673.9 831.6 V835.2 M789.8 831.6 V835.2 M906 831.6 V835.2"/>
<text class="l" font-size="14.4" text-anchor="end" x="544.8" y="594">55</text>
<text class="l" font-size="14.4" text-anchor="end" x="544.8" y="638">45</text>
<text class="l" font-size="14.4" text-anchor="end" x="544.8" y="682">35</text>
<text class="l" font-size="14.4" text-anchor="end" x="544.8" y="726">25</text>
<text class="l" font-size="14.4" text-anchor="end" x="544.8" y="770">15</text>
<text class="l" font-size="14.4" text-anchor="end" x="544.8" y="814">5</text>
<text class="l" font-size="14.4" text-anchor="end" x="544.8" y="858">-5</text>
<text class="l" font-size="14.4" text-anchor="end" x="544.8" y="902">-15</text>
<text class="l" font-size="14.4" text-anchor="middle" letter-spacing="0.25" x="557.725" y="920.9">Jan-22</text>
<text class="l" font-size="14.4" text-anchor="middle" letter-spacing="0.25" x="673.825" y="920.9">Jan-23</text>
<text class="l" font-size="14.4" text-anchor="middle" letter-spacing="0.25" x="789.825" y="920.9">Jan-24</text>
<text class="l" font-size="14.4" text-anchor="middle" letter-spacing="0.25" x="906.325" y="920.9">Jan-25</text>
<text class="a" font-size="15.3" x="570.2" y="594.3" textLength="324.3" lengthAdjust="spacingAndGlyphs">Inflows into foreign domiciled <tspan font-weight="bold" text-decoration="underline" style="text-decoration-thickness:1px">funds</tspan> investing</text>
<text class="a" font-size="15.3" x="570.2" y="615.7" textLength="280" lengthAdjust="spacingAndGlyphs">in US <tspan font-weight="bold">equities</tspan>, 1month rolling sum, $bn</text>
<path class="bl" d="M557 803.2 C557.2 801.1 557.6 795.1 558 791.5 C558.4 787.9 558.6 785 559.1 783.2 C559.6 781.4 560.3 781.6 560.8 781.6 C561.3 781.6 561.5 781.9 562 783.2 C562.5 784.5 562.9 787.8 563.3 789 C563.7 790.2 563.9 790.5 564.3 789.9 C564.7 789.3 564.9 786 565.3 785.7 C565.7 785.4 566 785.1 566.3 788.2 C566.6 791.4 566.7 797.5 567 803.2 C567.3 808.9 567.6 815.3 568 819.8 C568.4 824.3 568.6 825.7 569.1 828.1 C569.6 830.5 570.2 831.9 570.8 833.1 C571.4 834.3 571.9 834.8 572.5 834.5 C573.1 834.2 573.5 833.6 574.1 831.5 C574.7 829.4 575.3 827 575.8 823.1 C576.3 819.2 576.4 814.3 576.9 809.8 C577.4 805.3 577.8 801.1 578.3 798.2 C578.8 795.3 579.1 794.3 579.6 793.5 C580.1 792.7 580.8 793.2 581.3 794 C581.8 794.8 581.9 796 582.4 798.2 C582.9 800.5 583.5 803.5 584.1 806.5 C584.7 809.5 585.3 811.5 585.8 814.8 C586.3 818.1 586.4 821.5 586.9 824.8 C587.4 828.1 587.8 831.2 588.3 833.1 C588.8 835 589.3 834.8 589.9 835.1 C590.5 835.4 591 835.8 591.6 834.8 C592.2 833.8 592.7 832.2 593.2 829.8 C593.7 827.4 594.1 824.5 594.6 821.5 C595.1 818.5 595.6 815.8 596.2 813.2 C596.8 810.6 597.3 809.2 597.9 807.3 C598.5 805.4 598.9 802.7 599.4 802.7 C599.9 802.7 600 804.8 600.4 807.3 C600.8 809.8 601.1 812.5 601.6 816.5 C602.1 820.5 602.6 825 603.2 829.8 C603.8 834.6 604.4 838.9 604.9 843.1 C605.4 847.3 605.7 850.5 606.2 853.1 C606.7 855.7 607.3 857.4 607.9 857.7 C608.5 858 608.9 856.7 609.5 854.7 C610.1 852.7 610.6 850 611.2 846.4 C611.8 842.8 612.3 838.7 612.9 834.8 C613.5 830.9 613.9 827 614.5 824.8 C615.1 822.5 615.5 822.6 616.2 822.3 C616.9 822 617.6 822.3 618.2 823.1 C618.8 823.9 619 824.1 619.5 826.5 C620 828.9 620.6 832.8 621.2 836.4 C621.8 840 622.3 843.1 622.9 846.4 C623.5 849.7 623.9 852 624.5 854.7 C625.1 857.4 625.8 860 626.5 861.4 C627.2 862.8 627.6 863 628.2 862.7 C628.8 862.4 629.2 861.4 629.8 859.7 C630.4 858 630.9 855.5 631.5 853.1 C632.1 850.7 632.6 849.1 633.2 846.4 C633.8 843.7 634.2 840.8 634.8 838.1 C635.4 835.4 635.9 832.9 636.5 831.5 C637.1 830.1 637.6 830.3 638.2 830.1 C638.8 829.9 639.2 830.7 639.8 830.6 C640.4 830.5 640.9 830.4 641.5 829.8 C642.1 829.2 642.5 828.2 643.1 827.3 C643.7 826.4 644.2 825.8 644.8 824.8 C645.4 823.8 645.9 822.3 646.5 821.5 C647.1 820.7 647.6 821.8 648.1 820.6 C648.6 819.4 649 816.4 649.5 814.8 C650 813.2 650.1 812.1 650.6 811.5 C651.1 810.9 651.7 811.3 652.3 811.5 C652.9 811.7 653.4 812.4 654 812.7 C654.6 813 655 812.8 655.6 813.2 C656.2 813.6 656.8 813.3 657.3 814.8 C657.8 816.3 657.9 819.3 658.4 821.5 C658.9 823.7 659.3 825.7 659.8 826.8 C660.3 827.9 660.8 828.2 661.4 827.8 C662 827.4 662.5 825.8 663.1 824.8 C663.7 823.8 664.2 823.5 664.8 822.3 C665.4 821.1 665.9 819.7 666.4 818.2 C666.9 816.7 667.3 814.9 667.8 814 C668.2 813.1 668.5 812.9 668.9 813.2 C669.3 813.5 669.6 814.4 670.1 815.7 C670.6 817 670.9 819 671.4 820.6 C671.9 822.2 672.2 823.7 672.7 824.8 C673.2 825.9 673.9 825.3 674.4 826.5 C674.9 827.7 675.2 829.4 675.6 831.5 C676 833.6 675.9 836.3 676.4 838.1 C676.9 839.9 677.5 840.5 678.1 841.4 C678.7 842.3 679.1 842.3 679.7 843.1 C680.3 843.9 680.8 844.7 681.4 845.6 C682 846.5 682.6 845.6 683.1 848.1 C683.6 850.6 683.9 855.2 684.4 859.7 C684.9 864.2 685.2 870 685.6 873 C686 876 686.1 875.8 686.7 876.4 C687.3 877 688.1 876.6 688.9 876.4 C689.7 876.2 690.4 876.4 691 875.5 C691.6 874.6 691.8 874.2 692.2 871.4 C692.6 868.6 693 864.8 693.4 859.7 C693.8 854.6 694 849.1 694.4 843.1 C694.8 837.1 695 830.1 695.5 826.5 C696 822.9 696.6 824 697.2 823.1 C697.8 822.2 698.4 821.9 698.9 821.5 C699.4 821.1 699.3 819.3 699.7 821.1 C700.1 822.9 700.5 827.8 701 831.5 C701.5 835.2 701.7 838.4 702.2 841.4 C702.7 844.4 703.3 846.8 703.9 848.1 C704.5 849.4 705.1 848.7 705.8 848.4 C706.5 848.1 707.3 847.5 708 846.4 C708.7 845.3 709 843.4 709.6 842.3 C710.2 841.2 710.7 840.2 711.3 840.1 C711.9 840 712.4 841 713 841.8 C713.6 842.6 714.1 844 714.6 844.8 C715.1 845.6 715.2 846.1 715.8 846.1 C716.4 846.1 717.2 845.2 718 844.8 C718.8 844.4 719.4 845.1 720 843.9 C720.6 842.7 721.1 840.3 721.6 838.1 C722.1 835.9 722.5 833.3 723 831.5 C723.5 829.7 723.7 828.6 724.1 828.1 C724.5 827.6 724.8 828.5 725.3 829 C725.8 829.5 726.1 831.1 726.6 830.6 C727.1 830.1 727.4 828 727.9 826.5 C728.4 825 728.9 823.8 729.6 822.3 C730.3 820.8 730.9 819.5 731.6 818.2 C732.3 816.9 732.7 816 733.3 815.2 C733.9 814.4 734.3 813.8 734.9 813.7 C735.5 813.6 736.1 814.2 736.9 814.8 C737.7 815.4 738.4 815.9 739.1 816.8 C739.8 817.7 740.2 819.1 740.7 819.8 C741.2 820.5 741.4 821.2 741.9 820.6 C742.4 820 742.7 817.8 743.2 816.5 C743.7 815.2 744.2 814.2 744.9 813.2 C745.6 812.2 746.2 811.8 746.9 811.2 C747.6 810.6 748.1 809.7 748.6 809.8 C749.1 809.9 749.4 811 749.9 811.5 C750.4 812 750.7 812.4 751.2 812.3 C751.7 812.2 752.4 810.5 752.9 810.7 C753.4 810.9 753.7 812.3 754.2 813.2 C754.7 814.1 755 815.2 755.6 815.7 C756.2 816.2 756.8 815.5 757.4 816.2 C758 816.9 758.4 818.9 759 819.8 C759.6 820.7 760.1 821 760.7 821 C761.3 821 761.9 821.8 762.4 819.8 C762.9 817.8 763.1 814 763.5 809.8 C763.9 805.6 764.1 801.3 764.5 796.5 C764.9 791.7 765.1 787.7 765.5 783.2 C765.9 778.7 766.1 774.7 766.5 771.6 C766.9 768.5 767.4 766.9 767.9 765.8 C768.4 764.7 768.6 764.8 769 765.3 C769.4 765.8 769.6 766.7 769.9 768.3 C770.2 769.9 770.5 772.6 770.9 774.1 C771.3 775.6 771.5 776 771.9 776.9 C772.3 777.8 772.8 776.8 773.2 779.1 C773.6 781.4 773.6 785.3 774 789.9 C774.4 794.5 774.8 800.3 775.2 804.8 C775.6 809.3 775.8 812 776.2 814.8 C776.6 817.6 776.9 820.6 777.3 820.6 C777.7 820.6 778 817 778.5 814.8 C779 812.6 779.3 808.9 779.8 808.2 C780.3 807.5 780.8 809.5 781.2 810.7 C781.7 811.9 781.8 813.6 782.3 814.8 C782.8 816 783.2 818.2 783.7 817.3 C784.2 816.4 784.3 812.8 784.8 809.8 C785.2 806.8 785.7 801.9 786.2 800.7 C786.7 799.5 787.1 803.1 787.5 803.2 C787.9 803.3 788.1 803 788.5 801.5 C788.9 800 789.3 797.3 789.8 794.9 C790.3 792.5 791 789.9 791.5 788.2 C792 786.5 792.3 785.7 792.8 785.7 C793.3 785.7 793.6 787.1 794.1 788.2 C794.6 789.3 795 791.1 795.6 791.9 C796.2 792.7 796.8 793.1 797.3 792.4 C797.8 791.7 798.1 789.3 798.5 788.2 C798.9 787.1 799.1 786.1 799.5 786.2 C799.9 786.3 800.4 788.2 800.8 789 C801.2 789.8 801.4 790.8 801.8 790.7 C802.2 790.6 802.6 789 803.1 788.5 C803.6 788 804.3 787.8 804.8 787.9 C805.3 788 805.6 786.8 806.1 789 C806.6 791.2 806.9 796 807.3 799.9 C807.7 803.8 807.9 809.5 808.4 810.7 C808.9 811.9 809.3 807.2 809.8 806.8 C810.3 806.3 810.6 806.8 811.1 808.2 C811.6 809.6 811.9 812.4 812.3 814.8 C812.7 817.2 812.9 819.4 813.4 821.5 C813.9 823.6 814.3 825.5 814.8 826.5 C815.3 827.5 815.8 826.9 816.4 826.8 C817 826.7 817.5 825.9 818.1 826.1 C818.7 826.3 819.3 828.3 819.8 827.8 C820.3 827.3 820.6 825.4 821.1 823.1 C821.6 820.8 822.1 817.5 822.7 814.8 C823.3 812.1 823.8 810.6 824.4 808.2 C825 805.8 825.5 803.8 826.1 801.5 C826.7 799.2 827.2 797.2 827.7 795.7 C828.2 794.2 828.4 793.3 828.9 793.2 C829.4 793.1 830 795.5 830.6 794.9 C831.2 794.3 831.6 791.4 832.2 789.9 C832.8 788.4 833.3 787.4 833.9 786.6 C834.5 785.8 835 785.8 835.6 785.7 C836.2 785.6 836.6 785.4 837.2 786.2 C837.8 787 838.3 788.3 838.9 789.9 C839.5 791.5 840 793.8 840.5 794.9 C841 796 841.2 796.5 841.7 796.2 C842.2 795.9 842.8 794.5 843.4 793.2 C844 791.9 844.4 790.4 845 789 C845.6 787.6 846.2 787.2 846.7 785.7 C847.2 784.2 847.6 782 848 780.7 C848.4 779.4 848.6 778.3 849 778.6 C849.4 778.9 849.6 781.1 850 782.4 C850.4 783.7 850.6 786 851 785.7 C851.4 785.4 851.8 782.2 852.2 780.7 C852.6 779.2 852.9 777.9 853.4 777.4 C853.9 776.9 854.2 777.7 854.7 777.9 C855.2 778.1 855.5 778.8 856 778.6 C856.5 778.4 856.8 777.4 857.2 776.6 C857.6 775.8 857.9 775.1 858.3 774.1 C858.7 773.1 858.9 771.2 859.3 771.2 C859.7 771.2 860.1 773 860.7 773.9 C861.3 774.8 861.8 776 862.4 776.3 C863 776.6 863.5 776.1 864 775.5 C864.5 774.9 864.8 773.6 865.2 773 C865.6 772.4 865.9 771 866.2 772.2 C866.5 773.4 866.8 777.7 867 779.7 C867.2 781.7 867.1 780.2 867.4 783.2 C867.7 786.2 868 792.6 868.5 796.5 C869 800.4 869.4 802.3 869.9 804.8 C870.4 807.3 870.9 809.1 871.5 810.6 C872.1 812.1 872.5 812.3 873.2 813.1 C873.9 813.9 874.7 815.7 875.2 814.8 C875.7 813.9 875.8 812 876.2 808.1 C876.6 804.2 876.9 797.6 877.3 793.1 C877.7 788.6 878 786.2 878.5 783.2 C879 780.2 879.4 780.4 879.8 776.5 C880.2 772.6 880.3 768.6 880.5 761.4 C880.7 754.2 880.8 745.4 881 736.4 C881.2 727.4 881.3 719.6 881.5 711.5 C881.7 703.4 881.9 697.8 882.3 691.5 C882.7 685.2 883 681.1 883.5 676.6 C884 672.1 884.3 669.9 884.8 666.6 C885.3 663.3 885.8 661.6 886.2 658.3 C886.7 655 886.9 651.6 887.3 648.3 C887.7 645 887.9 641.6 888.2 640 C888.5 638.4 888.7 637.2 889 639.6 C889.3 642 889.5 647.3 889.8 653.3 C890.1 659.3 890.3 667.7 890.5 673.2 C890.7 678.7 890.8 681.3 891.1 684 C891.4 686.7 891.8 687.1 892.3 688.2 C892.8 689.3 893.5 689.6 894 690.2 C894.5 690.8 894.9 690.1 895.3 691.5 C895.7 692.9 895.7 694.9 896.1 698.2 C896.5 701.5 896.9 707 897.3 709.8 C897.7 712.6 897.8 713.9 898.1 714 C898.4 714.1 898.8 710.8 899.1 710.6 C899.4 710.4 899.5 711.1 899.8 713.1 C900.1 715.1 900.4 718.8 900.8 721.5 C901.2 724.2 901.4 726.7 901.8 728.1 C902.2 729.5 902.4 729.7 902.8 729.4 C903.2 729.1 903.6 728.4 904 726.4 C904.4 724.4 904.7 720.9 905.1 718.1 C905.5 715.3 905.8 712.1 906.1 710.6 C906.4 709.1 906.5 708.4 906.8 709.8 C907.1 711.1 907.3 714.5 907.6 718.1 C907.9 721.7 908.1 725.9 908.4 729.8 C908.7 733.7 909 737.6 909.4 739.8 C909.8 742 910.4 740.4 910.8 742.2 C911.2 744 911.4 746.2 911.8 749.7 C912.2 753.2 912.6 757.5 913.1 761.4 C913.6 765.3 914 768.7 914.4 771.4 C914.8 774.1 915.1 776.6 915.4 776.3 C915.7 776 915.8 771.6 916.1 769.7 C916.4 767.8 916.8 766 917.1 765.5 C917.4 765 917.6 764.9 917.8 767.2 C918 769.5 918.2 774.1 918.4 778.2 C918.6 782.3 918.8 784.7 919.1 789.8 C919.4 794.9 919.7 801 920.1 806.4 C920.5 811.8 920.7 816.1 921.1 819.8 C921.5 823.5 921.7 826.3 922.2 827.2 C922.7 828.1 923.3 825.4 923.9 824.7 C924.5 824 925.1 823.2 925.6 823.4 C926.1 823.6 926.3 824.5 926.7 825.6 C927.1 826.7 927.4 828.7 927.7 829.7 C928 830.7 928.1 832.3 928.4 831.1 C928.7 829.9 929.1 826.9 929.4 823.1 C929.7 819.3 929.9 813.2 930.2 809.8 C930.5 806.4 930.8 804.9 931.1 804 C931.4 803.1 931.6 804.1 931.9 804.8 C932.2 805.5 932.4 807.1 932.7 808.1 C933 809.1 933.4 810.1 933.6 810.6"/>
</svg></body></html>
